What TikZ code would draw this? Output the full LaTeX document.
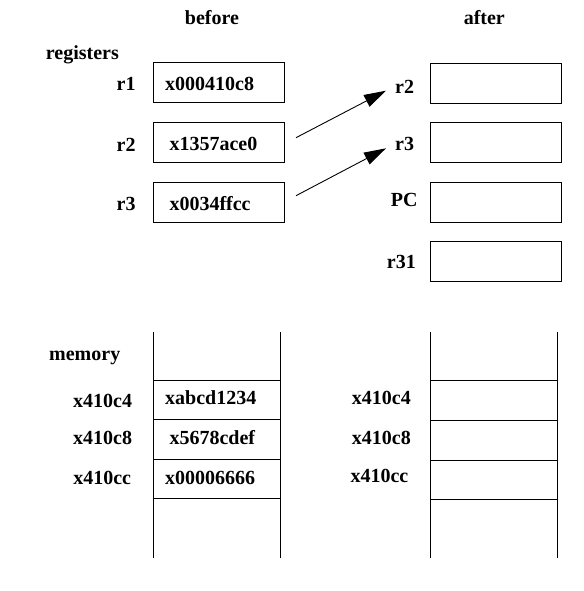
\documentclass[tikz,border=0pt]{standalone}
\usepackage{fontspec}
\setmainfont{Liberation Serif}
\usetikzlibrary{arrows.meta}
\begin{document}
\begin{tikzpicture}[x=1pt,y=-1pt,
  lbl/.style={inner sep=0pt,font=\fontsize{20}{24}\selectfont\bfseries},
  reg/.style={draw,line width=0.9pt,minimum width=131pt,minimum height=40pt,inner sep=0pt},
  cell/.style={line width=0.9pt},
  arr/.style={line width=0.9pt,-{Triangle[length=22pt,width=13pt]}}]
\useasboundingbox (0,0) rectangle (583,591);
% headings
\node[lbl,anchor=base] (hbefore) at (212,24.3) {before};
\node[lbl,anchor=base] (hafter) at (484.3,24.3) {after};
\node[lbl,anchor=base west] (hreg) at (45.7,59.3) {registers};
% before registers
\node[reg] (b1) at (218.5,82) {};
\node[reg] (b2) at (218.5,142) {};
\node[reg] (b3) at (218.5,202) {};
\node[lbl,anchor=base west] (v1) at (165,90.3) {x000410c8};
\node[lbl,anchor=base west] (v2) at (169.3,150.3) {x1357ace0};
\node[lbl,anchor=base west] (v3) at (169.3,210) {x0034ffcc};
\node[lbl,anchor=base east] (lb1) at (135.7,91) {r1};
\node[lbl,anchor=base east] (lb2) at (135.7,151) {r2};
\node[lbl,anchor=base east] (lb3) at (135.7,210) {r3};
% after registers
\node[reg] (a2) at (496.2,83) {};
\node[reg] (a3) at (496.2,142.5) {};
\node[reg] (apc) at (496.2,202) {};
\node[reg] (a31) at (496.2,261) {};
\node[lbl,anchor=base east] (la2) at (414.3,94) {r2};
\node[lbl,anchor=base east] (la3) at (414.3,150) {r3};
\node[lbl,anchor=base east] (lapc) at (417.7,206.7) {PC};
\node[lbl,anchor=base east] (la31) at (416,268.7) {r31};
% arrows
\coordinate (s2) at (296,137.7);
\coordinate (t2) at (386,90.7);
\coordinate (s3) at (296,195.7);
\coordinate (t3) at (386,148.3);
\draw[arr] (s2) -- (t2);
\draw[arr] (s3) -- (t3);
% memory before
\draw[cell] (153,332) -- (153,558);
\draw[cell] (280,332) -- (280,558);
\foreach \yy in {380,419,459,498} \draw[cell] (153,\yy) -- (280,\yy);
\node[lbl,anchor=base west] (hmem) at (49,360.7) {memory};
\node[lbl,anchor=base east] (m1) at (132.3,407.7) {x410c4};
\node[lbl,anchor=base east] (m2) at (132.3,444.7) {x410c8};
\node[lbl,anchor=base east] (m3) at (131.3,484.3) {x410cc};
\node[lbl,anchor=base west] (mv1) at (165,404.3) {xabcd1234};
\node[lbl,anchor=base west] (mv2) at (169.3,444.3) {x5678cdef};
\node[lbl,anchor=base west] (mv3) at (165,484) {x00006666};
% memory after
\draw[cell] (430.3,332) -- (430.3,558);
\draw[cell] (557.7,332) -- (557.7,558);
\foreach \yy in {380,420,460,499} \draw[cell] (430.3,\yy) -- (557.7,\yy);
\node[lbl,anchor=base west] (n1) at (351.7,404) {x410c4};
\node[lbl,anchor=base west] (n2) at (351.7,444.7) {x410c8};
\node[lbl,anchor=base west] (n3) at (350.3,482.7) {x410cc};
\end{tikzpicture}
\end{document}
